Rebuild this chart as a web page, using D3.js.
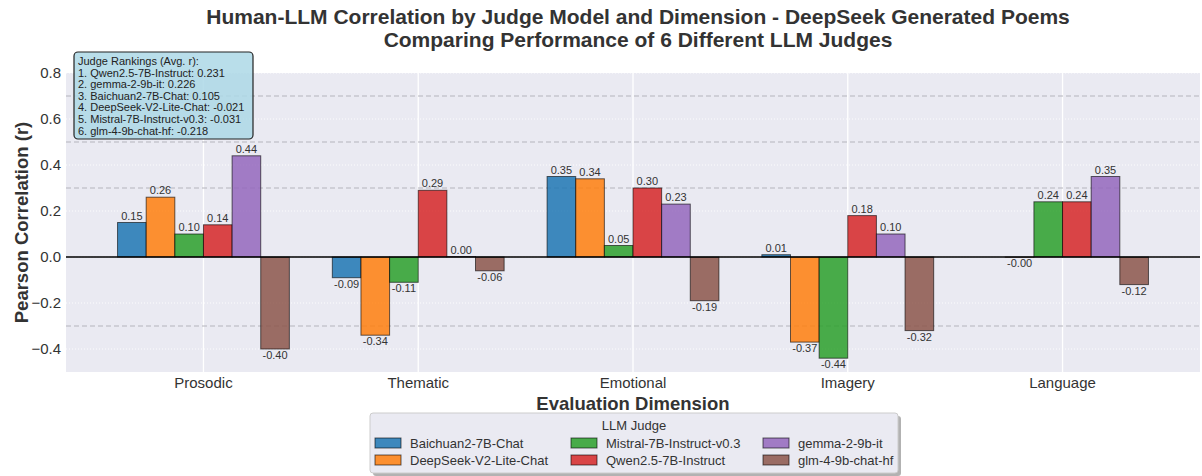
<!DOCTYPE html>
<html>
<head>
<meta charset="utf-8">
<script src="https://cdn.jsdelivr.net/npm/d3@7"></script>
<style>
  body { margin: 0; background: #fff; }
  svg { display: block; font-family: "Liberation Sans", Arial, sans-serif; }
</style>
</head>
<body>
<svg id="chart" width="1202" height="476"></svg>
<script>
// data
const dimensions = ['Prosodic', 'Thematic', 'Emotional', 'Imagery', 'Language'];
const judges = ['Baichuan2-7B-Chat', 'DeepSeek-V2-Lite-Chat', 'Mistral-7B-Instruct-v0.3',
                'Qwen2.5-7B-Instruct', 'gemma-2-9b-it', 'glm-4-9b-chat-hf'];
const baichuan = [0.15, -0.09, 0.35, 0.01, null];
const deepseek = [0.26, -0.34, 0.34, -0.37, -0.001];
const mistral  = [0.10, -0.11, 0.05, -0.44, 0.24];
const qwen     = [0.14, 0.29, 0.30, 0.18, 0.24];
const gemma    = [0.44, 0.002, 0.23, 0.10, 0.35];
const glm      = [-0.40, -0.06, -0.19, -0.32, -0.12];
const rankings = [
  'Judge Rankings (Avg. r):',
  '1. Qwen2.5-7B-Instruct: 0.231',
  '2. gemma-2-9b-it: 0.226',
  '3. Baichuan2-7B-Chat: 0.105',
  '4. DeepSeek-V2-Lite-Chat: -0.021',
  '5. Mistral-7B-Instruct-v0.3: -0.031',
  '6. glm-4-9b-chat-hf: -0.218'
];
const yTicks = [-0.4, -0.2, 0.0, 0.2, 0.4, 0.6, 0.8];
const refLines = [0.7, 0.5, 0.3, -0.3];

const seriesValues = [baichuan, deepseek, mistral, qwen, gemma, glm];
const colors = ['#1f77b4', '#ff7f0e', '#2ca02c', '#d62728', '#9467bd', '#8c564b'];
const textColor = '#333333';

const svg = d3.select('#chart');

const plotL = 66, plotR = 1200, plotT = 73, plotB = 372;
const barW = 0.8 / judges.length;

const x = d3.scaleLinear().domain([-0.64, 4.64]).range([plotL, plotR]);
const y = d3.scaleLinear().domain([-0.5, 0.8]).range([plotB, plotT]);

// plot background
svg.append('rect')
    .attr('x', plotL).attr('y', plotT)
    .attr('width', plotR - plotL).attr('height', plotB - plotT)
    .attr('fill', '#eaeaf2');

// vertical grid
svg.append('g')
    .selectAll('line')
    .data(dimensions)
    .join('line')
    .attr('x1', (d, i) => x(i)).attr('x2', (d, i) => x(i))
    .attr('y1', plotT).attr('y2', plotB)
    .attr('stroke', '#fff').attr('stroke-width', 1.3);

// horizontal dotted grid
svg.append('g')
    .selectAll('line')
    .data(yTicks)
    .join('line')
    .attr('x1', plotL).attr('x2', plotR)
    .attr('y1', d => y(d)).attr('y2', d => y(d))
    .attr('stroke', '#fff').attr('stroke-width', 1)
    .attr('stroke-dasharray', '1,2')
    .attr('opacity', 0.9);

// reference dashed lines
svg.append('g')
    .selectAll('line')
    .data(refLines)
    .join('line')
    .attr('x1', plotL).attr('x2', plotR)
    .attr('y1', d => y(d)).attr('y2', d => y(d))
    .attr('stroke', '#b4b4bc').attr('stroke-width', 1)
    .attr('stroke-dasharray', '5,3');

// bars
const rows = [];
seriesValues.forEach((vals, j) => {
    vals.forEach((v, i) => {
        if (v !== null) rows.push({ j, i, v });
    });
});

const barX = d => x(d.i + (d.j - (judges.length - 1) / 2) * barW - barW / 2);
const bw = x(barW) - x(0);

svg.append('g')
    .selectAll('rect')
    .data(rows)
    .join('rect')
    .attr('x', barX)
    .attr('y', d => y(Math.max(0, d.v)))
    .attr('width', bw)
    .attr('height', d => Math.abs(y(d.v) - y(0)))
    .attr('fill', d => colors[d.j])
    .attr('fill-opacity', 0.85)
    .attr('stroke', '#000')
    .attr('stroke-opacity', 0.6)
    .attr('stroke-width', 1);

// value labels
svg.append('g')
    .selectAll('text')
    .data(rows)
    .join('text')
    .attr('x', d => barX(d) + bw / 2)
    .attr('y', d => d.v >= 0 ? y(d.v) - 3 : y(d.v) + 10)
    .attr('text-anchor', 'middle')
    .attr('font-size', 11)
    .attr('fill', textColor)
    .text(d => d.v.toFixed(2));

// zero line
svg.append('line')
    .attr('x1', plotL).attr('x2', plotR)
    .attr('y1', y(0)).attr('y2', y(0))
    .attr('stroke', '#000').attr('stroke-width', 1.5);

// y tick labels
svg.append('g')
    .selectAll('text')
    .data(yTicks)
    .join('text')
    .attr('x', plotL - 5)
    .attr('y', d => y(d) + 5)
    .attr('text-anchor', 'end')
    .attr('font-size', 15)
    .attr('fill', textColor)
    .text(d => d3.format('.1f')(d).replace('-', '\u2212'));

// x tick labels
svg.append('g')
    .selectAll('text')
    .data(dimensions)
    .join('text')
    .attr('x', (d, i) => x(i))
    .attr('y', 388)
    .attr('text-anchor', 'middle')
    .attr('font-size', 15)
    .attr('fill', textColor)
    .text(d => d);

// axis titles
svg.append('text')
    .attr('x', (plotL + plotR) / 2)
    .attr('y', 410)
    .attr('text-anchor', 'middle')
    .attr('font-size', 18.5)
    .attr('font-weight', 'bold')
    .attr('fill', textColor)
    .text('Evaluation Dimension');

svg.append('text')
    .attr('transform', `translate(28, ${(plotT + plotB) / 2}) rotate(-90)`)
    .attr('text-anchor', 'middle')
    .attr('font-size', 18.5)
    .attr('font-weight', 'bold')
    .attr('fill', textColor)
    .text('Pearson Correlation (r)');

// title
const title = svg.append('text')
    .attr('text-anchor', 'middle')
    .attr('font-size', 21)
    .attr('font-weight', 'bold')
    .attr('fill', textColor);
title.append('tspan').attr('x', (plotL + plotR) / 2 + 5).attr('y', 24)
    .text('Human-LLM Correlation by Judge Model and Dimension - DeepSeek Generated Poems');
title.append('tspan').attr('x', (plotL + plotR) / 2 + 5).attr('y', 47)
    .text('Comparing Performance of 6 Different LLM Judges');

// rankings box
svg.append('rect')
    .attr('x', 74).attr('y', 52)
    .attr('width', 179).attr('height', 87)
    .attr('rx', 4)
    .attr('fill', '#add8e6').attr('fill-opacity', 0.85)
    .attr('stroke', '#222').attr('stroke-width', 1.2);

svg.append('g')
    .selectAll('text')
    .data(rankings)
    .join('text')
    .attr('x', 78)
    .attr('y', (d, i) => 65 + i * 11.6)
    .attr('font-size', 11)
    .attr('fill', '#222')
    .text(d => d);

// legend
const lg = svg.append('g');
lg.append('rect')
    .attr('x', 373).attr('y', 416)
    .attr('width', 528).attr('height', 60)
    .attr('rx', 3)
    .attr('fill', '#000').attr('opacity', 0.3);
lg.append('rect')
    .attr('x', 370).attr('y', 413)
    .attr('width', 528).attr('height', 60)
    .attr('rx', 3)
    .attr('fill', '#eaeaf2')
    .attr('stroke', '#cccccc').attr('stroke-width', 1);
lg.append('text')
    .attr('x', 634).attr('y', 430)
    .attr('text-anchor', 'middle')
    .attr('font-size', 13)
    .attr('fill', textColor)
    .text('LLM Judge');

const colX = [375, 571, 763];
const rowY = [443, 460];
const items = lg.selectAll('g.item')
    .data(judges)
    .join('g')
    .attr('class', 'item')
    .attr('transform', (d, i) => `translate(${colX[Math.floor(i / 2)]}, ${rowY[i % 2]})`);
items.append('rect')
    .attr('x', 0).attr('y', -5)
    .attr('width', 26).attr('height', 10)
    .attr('fill', (d, i) => colors[i])
    .attr('fill-opacity', 0.85)
    .attr('stroke', '#000').attr('stroke-opacity', 0.6);
items.append('text')
    .attr('x', 35).attr('y', 5)
    .attr('font-size', 13)
    .attr('fill', textColor)
    .text(d => d);
</script>
</body>
</html>
